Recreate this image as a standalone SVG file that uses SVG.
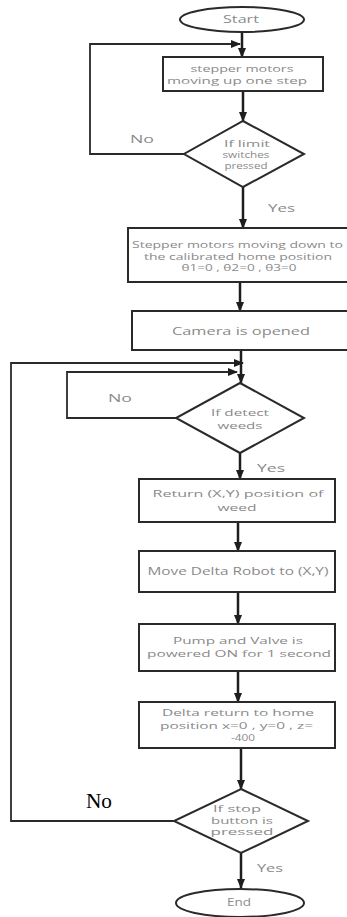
<svg xmlns="http://www.w3.org/2000/svg" width="347" height="917" viewBox="0 0 347 917">
<defs>
<style>
.n{fill:#fff;stroke:#2a2a2a;stroke-width:2}
.t{font-family:"Open Sans","DejaVu Sans",sans-serif;font-size:10.5px;fill:#8a8a8a;text-anchor:middle}
.m{font-size:9px}
.s{font-size:8.2px}
.c{fill:none;stroke:#1e1e1e;stroke-width:2.5}
.l{fill:none;stroke:#2a2a2a;stroke-width:1.8}
.lb{font-family:"Open Sans","DejaVu Sans",sans-serif;font-size:10.5px;fill:#8a8a8a}
</style>
<marker id="ah" markerUnits="userSpaceOnUse" markerWidth="10" markerHeight="10" viewBox="0 0 10 10" refX="9" refY="5" orient="auto">
<path d="M0,1 L10,5 L0,9 Z" fill="#1e1e1e"/>
</marker>
</defs>
<rect width="347" height="917" fill="#fff"/>
<g id="connectors">
<path class="c" d="M242,32 V57" marker-end="url(#ah)"/>
<path class="l" d="M184,154 H90 V44 H240" marker-end="url(#ah)"/>
<path class="c" d="M243,91 V121" marker-end="url(#ah)"/>
<path class="c" d="M243,187 V228" marker-end="url(#ah)"/>
<path class="c" d="M240,282 V311" marker-end="url(#ah)"/>
<path class="c" d="M241,350 V383" marker-end="url(#ah)"/>
<path class="l" d="M176,418 H67 V372 H237" marker-end="url(#ah)"/>
<path class="l" d="M174,821 H11 V363 H243" marker-end="url(#ah)"/>
<path class="c" d="M240,453 V479" marker-end="url(#ah)"/>
<path class="c" d="M238,522 V551" marker-end="url(#ah)"/>
<path class="c" d="M238,592 V624" marker-end="url(#ah)"/>
<path class="c" d="M238,671 V702" marker-end="url(#ah)"/>
<path class="c" d="M241,748 V789" marker-end="url(#ah)"/>
<path class="c" d="M241,853 V888" marker-end="url(#ah)"/>
<text class="lb" x="130" y="143" textLength="24" lengthAdjust="spacingAndGlyphs">No</text>
<text class="lb" x="268" y="212" textLength="27" lengthAdjust="spacingAndGlyphs">Yes</text>
<text class="lb" x="108" y="402" textLength="24" lengthAdjust="spacingAndGlyphs">No</text>
<text class="lb" x="257" y="472" textLength="28" lengthAdjust="spacingAndGlyphs">Yes</text>
<text x="86" y="808" font-family="'Liberation Serif','Times New Roman',serif" font-size="20" fill="#000" textLength="26" lengthAdjust="spacingAndGlyphs">No</text>
<text class="lb" x="257" y="872" textLength="26" lengthAdjust="spacingAndGlyphs">Yes</text>
</g>
<g id="start">
<ellipse class="n" cx="242" cy="19.5" rx="62" ry="12.5"/>
<text class="t" x="241" y="23" textLength="36" lengthAdjust="spacingAndGlyphs">Start</text>
</g>
<g id="step-up">
<rect class="n" x="163" y="57" width="160" height="34"/>
<text class="t m" x="242" y="72" textLength="103" lengthAdjust="spacingAndGlyphs">stepper motors</text>
<text class="t m" x="237" y="84" textLength="140" lengthAdjust="spacingAndGlyphs">moving up one step</text>
</g>
<g id="limit-switch">
<polygon class="n" points="243,121 304,154 243,187 184,154"/>
<text class="t s" x="247" y="146.5" textLength="46" lengthAdjust="spacingAndGlyphs">If limit</text>
<text class="t s" x="246" y="157.5" textLength="47" lengthAdjust="spacingAndGlyphs">switches</text>
<text class="t s" x="246" y="168.5" textLength="43" lengthAdjust="spacingAndGlyphs">pressed</text>
</g>
<g id="home">
<rect class="n" x="128" y="228" width="224" height="54"/>
<text class="t m" x="237.5" y="248" textLength="211" lengthAdjust="spacingAndGlyphs">Stepper motors moving down to</text>
<text class="t m" x="238" y="259.5" textLength="188" lengthAdjust="spacingAndGlyphs">the calibrated home position</text>
<text class="t m" x="239" y="271" textLength="115" lengthAdjust="spacingAndGlyphs">θ1=0 , θ2=0 , θ3=0</text>
</g>
<g id="camera">
<rect class="n" x="132" y="311" width="220" height="39"/>
<text class="t" x="241" y="335" textLength="138" lengthAdjust="spacingAndGlyphs">Camera is opened</text>
</g>
<g id="detect">
<polygon class="n" points="240,383 304,418 240,453 176,418"/>
<text class="t m" x="240" y="416" textLength="58" lengthAdjust="spacingAndGlyphs">If detect</text>
<text class="t m" x="240" y="429" textLength="45" lengthAdjust="spacingAndGlyphs">weeds</text>
</g>
<g id="return-xy">
<rect class="n" x="139" y="479" width="196" height="43"/>
<text class="t m" x="238" y="497" textLength="171" lengthAdjust="spacingAndGlyphs">Return (X,Y) position of</text>
<text class="t m" x="237" y="511" textLength="39" lengthAdjust="spacingAndGlyphs">weed</text>
</g>
<g id="move">
<rect class="n" x="139" y="551" width="196" height="41"/>
<text class="t" x="238" y="575" textLength="181" lengthAdjust="spacingAndGlyphs">Move Delta Robot to (X,Y)</text>
</g>
<g id="pump">
<rect class="n" x="139" y="624" width="196" height="47"/>
<text class="t m" x="238" y="644" textLength="130" lengthAdjust="spacingAndGlyphs">Pump and Valve is</text>
<text class="t m" x="239" y="657" textLength="184" lengthAdjust="spacingAndGlyphs">powered ON for 1 second</text>
</g>
<g id="delta-home">
<rect class="n" x="139" y="702" width="196" height="46"/>
<text class="t m" x="238" y="716" textLength="152" lengthAdjust="spacingAndGlyphs">Delta return to home</text>
<text class="t m" x="236.5" y="728.5" textLength="153" lengthAdjust="spacingAndGlyphs">position x=0 , y=0 , z=</text>
<text class="t m" x="243" y="741" textLength="24" lengthAdjust="spacingAndGlyphs">-400</text>
</g>
<g id="stop">
<polygon class="n" points="241,789 308,821 241,853 174,821"/>
<text class="t m" x="237" y="812" textLength="48" lengthAdjust="spacingAndGlyphs">If stop</text>
<text class="t m" x="242" y="823.5" textLength="62" lengthAdjust="spacingAndGlyphs">button is</text>
<text class="t m" x="242" y="835" textLength="63" lengthAdjust="spacingAndGlyphs">pressed</text>
</g>
<g id="end">
<ellipse class="n" cx="240" cy="903" rx="64" ry="14"/>
<text class="t" x="239" y="906" textLength="24" lengthAdjust="spacingAndGlyphs">End</text>
</g>
</svg>
